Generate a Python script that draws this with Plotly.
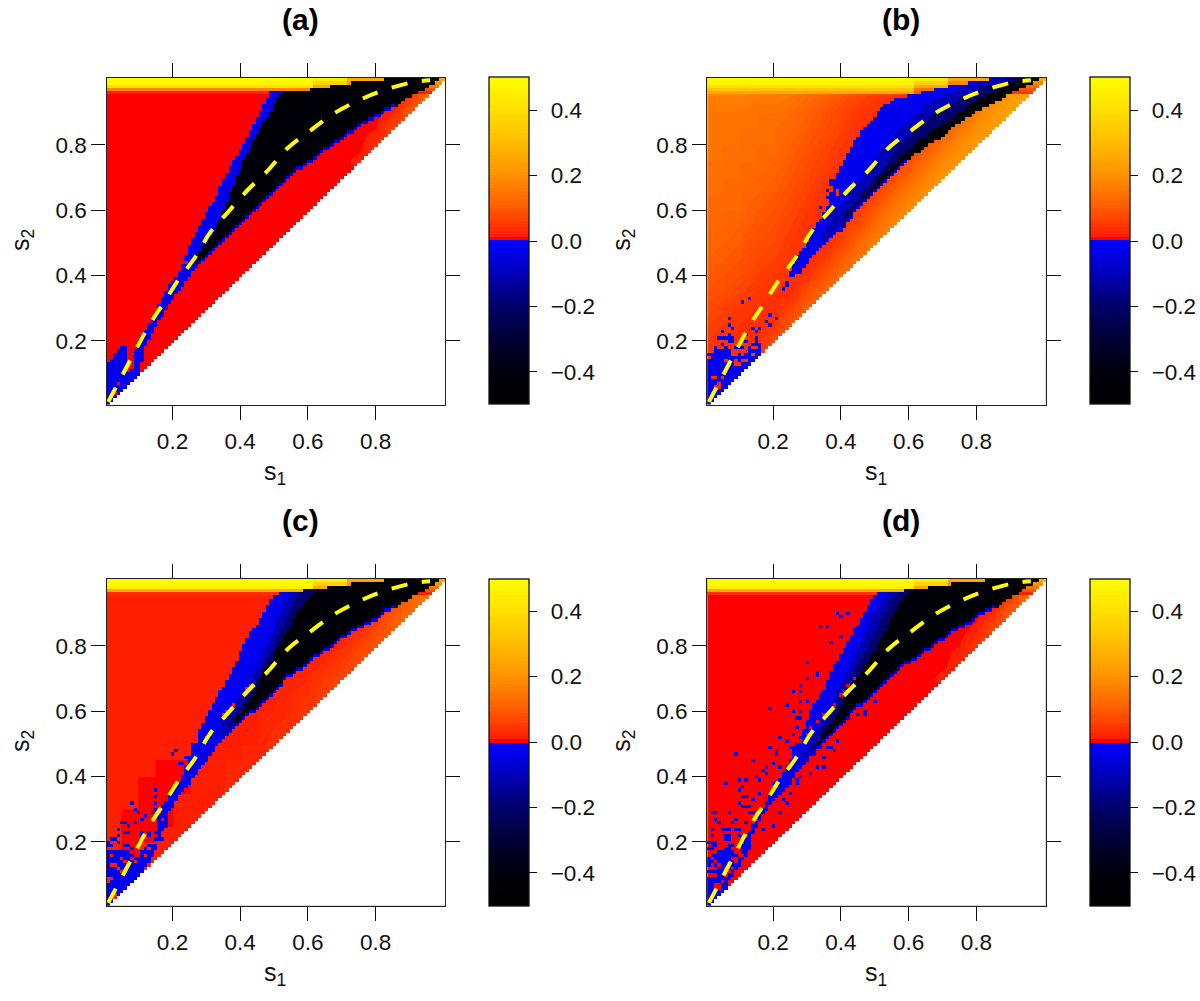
import numpy as np
import plotly.graph_objects as go

# ---------- axes / text ----------
tick_vals = [0.2, 0.4, 0.6, 0.8]
cbar_vals = [-0.4, -0.2, 0.0, 0.2, 0.4]
panel_titles = ["(a)", "(b)", "(c)", "(d)"]

# ---------- dashed curve ----------
curve_s1 = [.01,.052,.088,.137,.176,.216,.267,.312,.368,.425,.481,.543,.606,.673,.747,.82,.905,.961]
curve_s2 = [.013,.095,.166,.258,.319,.385,.456,.533,.599,.665,.721,.793,.843,.894,.935,.966,.991,.998]

def tail(first_s1, values, rest=1.0):
    """Column readings (s1 = .01 ... 1.00) starting at column first_s1; below it the band is absent."""
    first = int(round(first_s1 * 100)) - 1
    return [0.0] * first + list(values) + [rest] * (100 - first - len(values))

# ---------- negative region: top (up) and bottom (lo) edge in each s1 column ----------
diag_10 = [.01,.02,.03,.04,.05,.06,.07,.08,.09,.10]

up_a = [.13,.14,.16,.17,.18,.18,.10,.11,.17,.19,.21,.23,.25,.27,.28,.31,.33,.35,.37,.38,.39,.41,.43,.46,.49,.51,.53,.55,.57,.59,.61,.62,.64,.67,.69,.71,.73,.75,.76,.78,.80,.82,.84,.86,.88,.90,.92,.94,.96] + [.96]*11 + [.97]*6 + [.98]*6 + [.99]*10 + [1]*16 + [0,0]
lo_a = diag_10 + [.14,.19,.21,.23,.25,.27,.28,.30,.32,.33,.35,.36,.37,.39,.40,.42,.43,.44,.45,.46,.47,.48,.49,.50,.51,.52,.53,.54,.55,.56,.57,.58,.59,.60,.61,.62,.63,.64,.65,.66,.67,.68,.69,.70,.71,.72,.73,.73,.74,.75,.75,.76,.77,.78,.79,.79,.80,.81,.81,.82,.83,.84,.84,.85,.86,.87,.87,.88,.88,.89,.89,.90,.91,.91,.92,.92,.93,.94,.95,.95,.96,.96,.97,.97,.98,.99,.99,1,1.1,1.1]
dk_a = tail(.27, [.46,.47,.49,.50,.52,.53,.55,.57,.60,.62,.65,.67,.70,.72,.75,.77,.79,.81,.83,.85,.87,.88,.90,.92,.94,.95,.96,.97])

up_b = [.17]*7 + [.15,.15,.16,.16,.17,.17,.17,.17,.17] + [0]*8 + [.41,.43,.46,.47,.48,.50,.52,.54,.56,.57,.59,.61,.65,.69,.71,.73,.75,.77,.79,.81,.82,.84,.85,.86,.87,.88,.90,.91,.92,.92,.93,.94,.94,.94,.94,.95,.95,.95,.95,.96,.96,.96,.96,.97,.97,.97,.97,.98,.98,.98,.98,.98,.98,.99,.99,.99,.99,.99,.99] + [1]*15 + [0,0]
lo_b = diag_10 + [.11,.12,.13,.14,.15,.16] + [1.1]*8 + [.40,.40,.41,.42,.43,.44,.46,.47,.48,.49,.50,.51,.52,.53,.54,.54,.55,.57,.58,.60,.61,.62,.63,.64,.65,.66,.67,.68,.69,.70,.71,.72,.73,.74,.75,.76,.77,.78,.78,.79,.80,.81,.81,.82,.82,.83,.84,.85,.86,.87,.87,.88,.89,.89,.90,.91,.91,.92,.92,.93,.93,.94,.94,.95,.96,.96,.97,.97,.98,.98,.99,.99,1,1,1.1,1.1]
c1_b = tail(.35, [.53,.55,.58,.59,.60,.61,.62,.63,.65,.66,.68,.69,.71,.72,.73,.75,.76,.78,.79,.80,.81,.83,.84,.85,.86,.87,.88,.89,.90,.91,.92,.92,.93,.93,.94,.94,.95,.95,.96,.96,.97,.97,.98,.98,.98,.98,.99,.99])
c2_b = tail(.41, [.58,.60,.61,.62,.63,.65,.66,.67,.68,.70,.71,.72,.73,.75,.76,.78,.79,.80,.81,.82,.83,.84,.85,.86,.87,.88,.89,.89,.90,.91,.92,.92,.93,.93,.94,.94,.95,.95,.96,.96,.97,.97,.98,.98,.98,.98,.99,.99])
dk_b = tail(.47, [.64,.65,.66,.68,.69,.70,.71,.72,.73,.74,.75,.76,.77,.78,.79,.80,.81,.82,.82,.83,.84,.85,.85,.86,.87,.87,.88,.89,.90,.90,.91,.92,.93,.93,.94,.94,.95,.95,.96,.96,.97,.97,.98,.98,.99,.99])

up_c = [.17]*7 + [.16,.15,.15,.17,.18,.19,.20,.21,.24,.31,.32,.34,.36,.37,.38,.40,.43,.46,.48,.50,.52,.55,.58,.60,.62,.64,.66,.67,.69,.71,.73,.75,.78,.80,.82,.84,.85,.86,.88,.90,.92,.94,.95,.95] + [.96]*7 + [.97]*7 + [.98]*7 + [.99]*10 + [1]*16 + [0,0]
lo_c = diag_10 + [.11,.13,.14,.16,.18,.21,.24,.27,.30,.31,.33,.35,.36,.37,.38,.40,.41,.43,.44,.45,.47,.48,.50,.51,.52,.53,.54,.55,.56,.57,.58,.59,.60,.60,.61,.62,.63,.64,.65,.66,.67,.68,.70,.71,.71,.72,.73,.73,.74,.75,.76,.77,.77,.78,.79,.79,.80,.81,.82,.83,.83,.84,.85,.85,.86,.86,.87,.87,.88,.88,.89,.90,.91,.91,.92,.92,.93,.94,.94,.95,.96,.96,.97,.97,.98,.99,.99,1,1.1,1.1]
c1_c = tail(.35, [.58,.59,.60,.61,.63,.64,.66,.67,.69,.71,.73,.75,.78,.80,.83,.85,.88,.90,.93,.94,.96])
c2_c = tail(.37, [.56,.58,.60,.61,.63,.64,.66,.68,.70,.72,.74,.76,.78,.80,.83,.85,.87,.89,.91,.93,.95,.96,.97])
dk_c = tail(.39, [.58,.59,.60,.62,.64,.65,.67,.69,.71,.73,.75,.77,.79,.81,.83,.84,.86,.88,.90,.91,.93,.94,.95,.96,.97])

up_d = [.16]*4 + [.17]*4 + [.16,.16,.19,.21,.23,.25,.26,.28,.30,.32,.34,.35,.36,.39,.41,.43,.45,.48,.50,.52,.54,.57,.60,.62,.63,.65,.66,.69,.72,.74,.75,.77,.79,.81,.83,.85,.86,.88,.90,.92,.94,.95] + [.96]*8 + [.97]*7 + [.98]*7 + [.99]*10 + [1]*16 + [0,0]
lo_d = [.01,.02,.03,.04,.05,.06,.09,.10,.12,.13,.15,.16,.18,.23,.25,.27,.29,.30,.32,.33,.34,.35,.36,.37,.38,.40,.42,.43,.44,.45,.47,.48,.49,.50,.51,.52,.53,.54,.55,.56,.57,.58,.60,.61,.62,.62,.63,.64,.65,.66,.67,.68,.69,.70,.71,.72,.73,.74,.75,.75,.76,.76,.77,.78,.79,.79,.80,.81,.82,.82,.83,.84,.85,.85,.86,.86,.87,.87,.88,.89,.90,.90,.91,.91,.92,.92,.93,.94,.95,.95,.96,.96,.97,.98,.99,.99,1,1,1.1,1.1]
c1_d = tail(.29, [.47,.48,.50,.52,.54,.55,.57,.59,.61,.63,.66,.68,.70,.72,.75,.77,.79,.81,.84,.86,.89,.90,.92,.93,.95])
c2_d = tail(.31, [.48,.50,.51,.53,.55,.56,.58,.60,.62,.64,.66,.68,.70,.72,.74,.76,.78,.80,.82,.84,.86,.88,.90,.92,.94,.95,.96])
dk_d = tail(.33, [.50,.51,.53,.54,.56,.57,.59,.61,.63,.65,.67,.68,.70,.72,.74,.75,.77,.78,.80,.82,.84,.86,.88,.90,.92,.93,.95,.96])

# ---------- isolated cells, (s1, s2) in hundredths ----------
specks_a = [(20,38),(27,50),(26,49),(26,48)]
holes_a = [(30,52),(31,53),(4,7),(3,4),(24,44)]

specks_b = [(13,33),(11,32),(7,27),(7,25),(8,24),(5,23),(19,28),(21,27),(18,26),(19,25),(12,22),(14,24),(16,24),(15,23),(7,22),
            (4,21),(5,21),(6,21),(7,21),(8,21),(7,20),(8,20),(12,20),(15,21),(15,20),(15,19),(14,19),(16,19),(11,18),(13,18),(14,17),(16,18),
            (34,61),(36,66),(36,64),(37,65),(38,64),(37,69),(37,68),(24,38),(24,37),(23,36),(28,41),(27,42),(28,42),(5,19),(6,18),(3,18),(9,18),(10,18)]
holes_b = [(1,15),(6,14),(11,14),(12,14),(9,13),(7,13),(10,13),(2,9),(3,9),(5,9),(4,7),(3,6),(4,6),(2,4),(12,17),(9,14),(14,16),(2,17),(8,16),(39,66),(39,65),(1,17),(11,16)]

specks_c = [(15,36),(15,34),(15,32),(8,32),(9,30),(10,29),(14,29),(15,30),(12,28),(11,27),(9,26),(5,26),(6,26),(4,24),(7,25),(7,23),(6,23),(11,23),(11,22),
            (13,23),(4,22),(2,21),(3,21),(7,19),(6,19),(8,18),(4,20),(10,20),(17,21),(16,25),(17,25),(18,25),(16,26),(18,26),(16,27),(18,27),(17,28),(16,28),(13,22),(15,23),
            (1,20),(1,19),(2,19),(21,48),(20,47),(24,46),(22,44),(23,44),(26,50),(28,53),(28,52),(29,56),(28,54),(26,49),(30,58),(31,59),(32,60)]
holes_c = [(17,27),(1,9),(1,8),(2,9),(2,13),(3,13),(5,15),(6,14),(7,13),(4,12),(3,4),(3,3),(9,14),(8,15),(5,11),(2,16),(30,52),(31,53),(37,61),(38,62),(43,68),(42,67),(36,60),(35,59),(12,16),(13,18),(14,20),(15,20)]

specks_d = [(9,47),(14,45),(21,47),(18,43),(20,44),(17,42),(18,41),(15,40),(16,39),(12,39),(10,39),(6,38),(11,37),(10,36),(11,34),(12,34),(16,35),(14,33),(10,32),(11,31),(12,31),(13,31),
            (7,29),(2,29),(3,29),(3,27),(4,26),(9,27),(8,26),(12,26),(13,29),(14,29),(15,28),(2,24),(5,24),(6,24),(7,24),(9,24),(10,24),(14,24),(17,24),(20,25),(22,29),(23,33),(24,32),(25,35),(27,38),(27,39),(28,40),(31,41),(33,43),(35,43),(20,38),(24,39),
            (6,22),(7,22),(2,22),(10,22),(1,20),(2,20),(3,20),(6,21),(7,21),(2,19),(3,19),(7,19),(8,19),(1,18),(2,18),(6,18),(7,18),(4,17),(5,17),
            (39,90),(40,89),(42,90),(34,86),(36,86),(40,83),(37,81),(30,75),(33,72),(33,71),(30,70),(28,68),(26,66),(28,66),(28,63),(30,63),(24,62),(19,61),(26,60),(28,60),(27,58),(28,58),(27,55),(26,53),(22,52),(24,51),(25,49),(26,49),(21,48),(21,47),(19,49),(22,43),
            (50,63),(47,60),(47,59),(45,59),(43,60),(39,51),(36,49),(37,49),(38,48),(34,49),(35,46),(33,43),(32,47),(31,41),(29,50),(30,48)]
holes_d = [(1,16),(2,15),(3,14),(2,13),(4,13),(1,12),(2,12),(3,12),(6,12),(7,13),(8,12),(7,11),(1,10),(2,10),(3,10),(3,7),(4,7),(3,6),(4,6),(5,8),(6,10),(8,15),(9,14),(9,15),(10,16),(11,16),
           (44,70),(40,65),(38,62),(35,59),(30,53),(28,51),(41,66),(42,68),(33,57),(31,55)]

# ---------- top band, value by row s2 = .94 ... 1.00 (s1<.62, .62-.72, above) ----------
top_a = [None, None, .02, .18, .40, .47, .50]
top_m_a = [None, None, .02, .12, .25, .36, .45]
top_r_a = [None, None, .02, .08, .14, .20, .25]
top_b = [None, None, .25, .32, .40, .46, .50]
top_m_b = [None, None, .10, .15, .25, .36, .44]
top_r_b = [None, None, .05, .08, .12, .18, .25]
top_c = [None, None, .04, .25, .45, .48, .50]
top_m_c = [None, None, .02, .12, .25, .36, .45]
top_r_c = [None, None, .02, .08, .14, .20, .25]
top_d = [None, None, .04, .25, .45, .48, .50]
top_m_d = [None, None, .02, .12, .25, .36, .45]
top_r_d = [None, None, .02, .08, .14, .20, .25]

# ---------- positive background, coarse readings in hundredths (row s2=k*.05, s1=0..k*.05) ----------
bg_a = [[0]*(k+1) for k in range(15)] + [[0]*15+[2], [0]*16+[4], [0]*16+[1,7], [0]*17+[2,10], [0]*18+[4,14], [0]*19+[10,25]]
bg_b = [[3],[3,3],[3,3,4],[4,3,3,6],[5,4,3,3,8],[6,5,4,3,4,10],[8,6,5,4,3,6,11],[9,8,6,5,4,3,8,12],[10,9,8,6,5,4,4,9,13],
        [11,10,9,7,6,5,3,5,10,15],[12,11,10,8,7,5,4,3,6,12,17],[12,12,11,9,8,6,4,3,5,8,13,18],[13,12,12,10,9,7,5,3,3,5,10,15,19],
        [13,13,12,11,10,8,6,4,3,3,6,11,16,20],[13,13,13,12,11,9,7,5,3,3,3,7,12,17,21],[14,14,13,13,12,10,8,6,4,3,3,3,8,13,18,21],
        [14,14,14,13,13,11,9,7,5,4,3,3,3,9,14,19,22],[15,15,14,14,13,12,10,8,6,4,3,3,3,3,10,15,20,23],
        [15,15,15,14,14,13,11,9,7,5,4,3,3,3,4,11,16,21,24],[17,17,17,16,16,15,13,11,9,7,5,4,3,3,3,5,12,17,22,25],
        [20]*15+[10,10,14,20,25,30]]
bg_c = [[2],[2,2],[2,2,2],[2,1,1,2],[2,1,1,1,2],[2,1,1,1,1,2],[2,1,1,1,1,2,2],[2,2,1,1,1,1,2,2],[2,2,1,1,1,1,2,2,3],[2,2,2,1,1,1,1,2,2,3],[2]*10+[4],[2]*10+[3,4],[2]*11+[3,5],[2]*11+[3,4,6],[2]*12+[3,5,7],
        [2]*13+[3,5,8],[2]*14+[3,6,9],[2]*15+[3,7,11],[2]*16+[4,9,13],[2]*17+[5,11,16],[3]*18+[8,14,24]]
bg_d = [[0]*(k+1) for k in range(14)] + [[0]*14+[2],[0]*15+[3],[0]*15+[1,5],[0]*16+[2,8],[0]*17+[3,11],[0]*18+[5,15],[0]*19+[10,25]]

panels = [
    dict(up=up_a, lo=lo_a, bands=[(dk_a, -.45)], specks=specks_a, holes=holes_a, top=(top_a, top_m_a, top_r_a), bg=bg_a, rim=.86),
    dict(up=up_b, lo=lo_b, bands=[(c1_b, -.1), (c2_b, -.2), (dk_b, -.45)], specks=specks_b, holes=holes_b, top=(top_b, top_m_b, top_r_b), bg=bg_b, rim=.6),
    dict(up=up_c, lo=lo_c, bands=[(c1_c, -.1), (c2_c, -.2), (dk_c, -.45)], specks=specks_c, holes=holes_c, top=(top_c, top_m_c, top_r_c), bg=bg_c, rim=.86),
    dict(up=up_d, lo=lo_d, bands=[(c1_d, -.1), (c2_d, -.2), (dk_d, -.45)], specks=specks_d, holes=holes_d, top=(top_d, top_m_d, top_r_d), bg=bg_d, rim=.86),
]
for panel in panels:
    assert len(panel["up"]) == 100 and len(panel["lo"]) == 100, (len(panel["up"]), len(panel["lo"]))

# ---------- colours: 100 bands over [-0.5, 0.5] ----------
pos_z, pos_g = [0, .01, .05, .1, .2, .3, .4, .5], [0, 30, 60, 95, 148, 190, 225, 255]
neg_z, neg_b = [-.5, -.4, -.3, -.2, -.1, -.01], [0, 14, 55, 110, 190, 255]
colorscale = []
for i in range(100):
    low = -.5 + i * .01
    if low < -1e-9:
        c = f"rgb(0,0,{int(np.interp(low, neg_z, neg_b))})"
    else:
        c = f"rgb(255,{int(np.interp(low, pos_z, pos_g))},0)"
    colorscale += [[i / 100, c], [(i + 1) / 100, c]]

# ---------- page geometry ----------
W, H = 1200, 1001
lefts, rights = [106.5, 707.2], [445, 1045.7]
tops, bottoms = [78, 579], [404.5, 905.5]
bar_lefts = [489, 1090]

S = np.round(np.arange(1, 101) / 100, 2)
fig = go.Figure()
annotations = []
layout = {}
for p, panel in enumerate(panels):
    col, row = p % 2, p // 2
    sfx = "" if p == 0 else str(p + 1)
    # background
    table = np.zeros((21, 21))
    for k, r in enumerate(panel["bg"]):
        table[k, :len(r)] = np.array(r) / 100
        table[k, len(r):] = r[-1] / 100
    coarse = np.arange(21) * .05
    fig.add_trace(go.Heatmap(x=coarse, y=coarse, z=table, zsmooth="best", colorscale=colorscale, zmin=-.5, zmax=.5,
                             showscale=False, hoverinfo="skip", xaxis="x" + sfx, yaxis="y" + sfx))
    # cells
    Z = np.full((100, 100), np.nan)
    for j, s1 in enumerate(S):
        tier = panel["top"][0 if s1 < .62 else 1 if s1 < .72 else 2]
        for i, s2 in enumerate(S):
            if s2 < s1 - 1e-9:
                continue
            if s2 >= .94 - 1e-9:
                t = tier[int(round((s2 - .94) * 100))]
                if t is not None:
                    Z[i, j] = t
            if panel["lo"][j] - 1e-9 <= s2 <= panel["up"][j] + 1e-9:
                v = -.03
                for arr, level in panel["bands"]:
                    if s2 <= arr[j] + 1e-9:
                        v = level
                if s2 < panel["lo"][j] + .01 - 1e-9 and s1 < panel["rim"]:
                    v = -.03
                Z[i, j] = v
    for a, b in panel["specks"]:
        Z[b - 1, a - 1] = -.03
    for a, b in panel["holes"]:
        Z[b - 1, a - 1] = np.nan
    bar_top = 1 - (tops[row] - .5) / H
    fig.add_trace(go.Heatmap(
        x=S, y=S, z=Z, colorscale=colorscale, zmin=-.5, zmax=.5, hoverinfo="skip", xaxis="x" + sfx, yaxis="y" + sfx,
        colorbar=dict(x=bar_lefts[col] / W, xanchor="left", xpad=0, y=bar_top, yanchor="top", ypad=0,
                      lenmode="pixels", len=327, thicknessmode="pixels", thickness=40,
                      outlinecolor="#111", outlinewidth=1.3, borderwidth=0,
                      ticks="outside", ticklen=8, tickwidth=1.2, tickcolor="#111", tickmode="array",
                      tickvals=cbar_vals, ticktext=["\u2009\u2009" + f"{v:.1f}".replace("-", "\u2212") for v in cbar_vals],
                      tickfont=dict(family="Liberation Sans", size=22.5, color="#111"))))
    # white lower triangle
    mask = np.where(np.subtract.outer(S, S) < -1e-9, 1.0, np.nan)
    fig.add_trace(go.Heatmap(x=S, y=S, z=mask, colorscale=[[0, "white"], [1, "white"]], showscale=False,
                             hoverinfo="skip", xaxis="x" + sfx, yaxis="y" + sfx))
    # dashed curve
    fig.add_trace(go.Scatter(x=curve_s1, y=curve_s2, mode="lines", showlegend=False, hoverinfo="skip",
                             line=dict(color="#ffff00", width=4, dash="16px,15px", shape="spline"),
                             xaxis="x" + sfx, yaxis="y" + sfx))
    axis = dict(tickmode="array", tickvals=tick_vals, ticktext=[f"{v:.1f}" for v in tick_vals], ticks="outside", ticklen=14, tickwidth=1.2,
                tickcolor="#111", showline=True, linecolor="#222", linewidth=1.2, mirror="ticks", showgrid=False, zeroline=False,
                range=[.005, 1.005], tickfont=dict(family="Liberation Sans", size=22.5, color="#111"))
    layout["xaxis" + sfx] = dict(axis, domain=[lefts[col] / W, rights[col] / W], anchor="y" + sfx, ticklabelstandoff=2)
    layout["yaxis" + sfx] = dict(axis, domain=[1 - bottoms[row] / H, 1 - tops[row] / H], anchor="x" + sfx)
    off_x, off_y = col * 600.7, row * 501
    annotations += [
        dict(text=f"<b>{panel_titles[p]}</b>", x=(300 + off_x) / W, y=1 - (19 + off_y) / H, xref="paper", yref="paper",
             showarrow=False, xanchor="center", yanchor="middle", font=dict(family="Liberation Sans", size=30, color="black")),
        dict(text="s<sub>1</sub>", x=(275 + off_x) / W, y=1 - (473 + off_y) / H, xref="paper", yref="paper",
             showarrow=False, xanchor="center", yanchor="middle", font=dict(family="Liberation Sans", size=25, color="#111")),
        dict(text="s<sub>2</sub>", x=(22 + off_x) / W, y=1 - (240 + off_y) / H, xref="paper", yref="paper", textangle=-90,
             showarrow=False, xanchor="center", yanchor="middle", font=dict(family="Liberation Sans", size=25, color="#111")),
    ]

fig.update_layout(width=W, height=H, margin=dict(l=0, r=0, t=0, b=0), paper_bgcolor="white", plot_bgcolor="white",
                  showlegend=False, annotations=annotations, **layout)
fig.write_html("out.html", config={"displayModeBar": False},
               post_script="document.body.style.margin='0';document.body.style.overflow='hidden';")
